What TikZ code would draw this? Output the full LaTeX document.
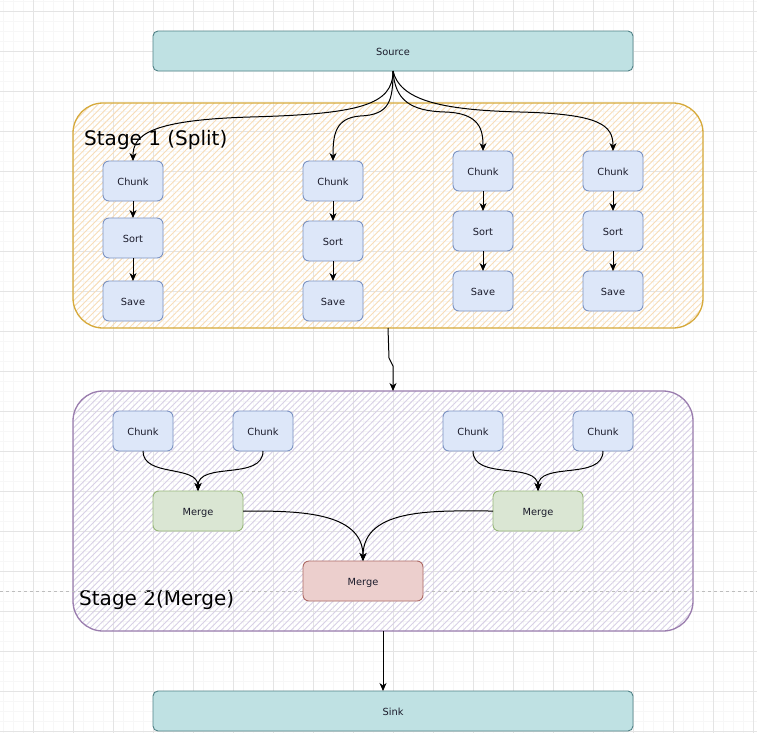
\documentclass[tikz,border=0pt]{standalone}
\usepackage{fontspec}
\setmainfont{DejaVu Sans}
\usetikzlibrary{arrows.meta,patterns.meta}
\definecolor{gridmaj}{HTML}{E4E4E4}
\definecolor{gridmin}{HTML}{F7F7F7}
\definecolor{tealfill}{HTML}{BFE1E3}
\definecolor{tealdraw}{HTML}{4F8186}
\definecolor{bluefill}{HTML}{DDE7F9}
\definecolor{bluedraw}{HTML}{7C93C3}
\definecolor{greenfill}{HTML}{DAE6D3}
\definecolor{greendraw}{HTML}{98B77A}
\definecolor{redfill}{HTML}{ECCFCD}
\definecolor{reddraw}{HTML}{AD6A66}
\definecolor{goldline}{HTML}{D6A93A}
\definecolor{orangehatch}{HTML}{F8DDB8}
\definecolor{purpleline}{HTML}{9A7DAE}
\definecolor{purplehatch}{HTML}{D8D0E6}
\definecolor{guidegray}{HTML}{BDBDBD}
\definecolor{txt}{HTML}{1A1A2A}
\tikzset{
  basebox/.style={rectangle, inner sep=0pt, outer sep=0pt, line width=0.9pt,
    font=\fontsize{9.8}{11.8}\selectfont, text=txt, text height=9pt, text depth=0pt},
  wide/.style={basebox, minimum width=480pt, minimum height=40pt, rounded corners=5pt, fill=tealfill, draw=tealdraw},
  chunkbox/.style={basebox, minimum width=60pt, minimum height=40pt, rounded corners=6pt, fill=bluefill, draw=bluedraw},
  greenbox/.style={basebox, minimum width=90pt, minimum height=40pt, rounded corners=6pt, fill=greenfill, draw=greendraw},
  redbox/.style={basebox, minimum width=120pt, minimum height=40pt, rounded corners=6pt, fill=redfill, draw=reddraw},
  stageone/.style={rectangle, inner sep=0pt, outer sep=0pt, rounded corners=30pt, line width=1.3pt, draw=goldline,
    pattern={Lines[angle=45,distance=4.5pt,line width=0.9pt]}, pattern color=orangehatch},
  stagetwo/.style={rectangle, inner sep=0pt, outer sep=0pt, rounded corners=30pt, line width=1.3pt, draw=purpleline,
    pattern={Lines[angle=45,distance=4.5pt,line width=0.9pt]}, pattern color=purplehatch},
  stagelabel/.style={inner sep=0pt, anchor=west, font=\fontsize{20}{24}\selectfont, text=black},
  link/.style={draw=black, line width=1pt, -{Stealth[length=8pt,width=7pt,inset=2.5pt]}},
  minorgrid/.style={draw=gridmin, line width=0.8pt},
  majorgrid/.style={draw=gridmaj, line width=0.9pt},
  guide/.style={draw=guidegray, line width=0.8pt, dash pattern=on 3pt off 3pt}
}
\begin{document}
\begin{tikzpicture}[x=1pt,y=-1pt]
\useasboundingbox (0,0) rectangle (757,737);
\fill[white] (0,0) rectangle (757,737);
% grid
\foreach \x in {3,13,...,753} \draw[minorgrid] (\x,0) -- (\x,733);
\foreach \y in {1.5,11.5,...,731.5} \draw[minorgrid] (0,\y) -- (757,\y);
\foreach \x in {33,73,...,753} \draw[majorgrid] (\x,0) -- (\x,733);
\foreach \y in {11.5,51.5,...,731.5} \draw[majorgrid] (0,\y) -- (757,\y);

% containers
\node[stageone, minimum width=630pt, minimum height=225pt] (s1) at (388,215.5) {};
\node[stagetwo, minimum width=620pt, minimum height=240pt] (s2) at (383,511) {};
\node[stagelabel] (t1) at (84,140) {Stage 1 (Split)};
\node[stagelabel] (t2) at (79,600) {Stage 2(Merge)};

% guide line
\draw[guide] (0,591) -- (757,591);

% nodes
\node[wide] (source) at (393,51) {Source};
\node[wide] (sink) at (393,711) {Sink};

\node[chunkbox] (a1) at (133,181) {Chunk};
\node[chunkbox] (b1) at (133,238) {Sort};
\node[chunkbox] (d1) at (133,301) {Save};
\node[chunkbox] (a2) at (333,181) {Chunk};
\node[chunkbox] (b2) at (333,241) {Sort};
\node[chunkbox] (d2) at (333,301) {Save};
\node[chunkbox] (a3) at (483,171) {Chunk};
\node[chunkbox] (b3) at (483,231) {Sort};
\node[chunkbox] (d3) at (483,291) {Save};
\node[chunkbox] (a4) at (613,171) {Chunk};
\node[chunkbox] (b4) at (613,231) {Sort};
\node[chunkbox] (d4) at (613,291) {Save};

\node[chunkbox] (m1) at (143,431) {Chunk};
\node[chunkbox] (m2) at (263,431) {Chunk};
\node[chunkbox] (m3) at (473,431) {Chunk};
\node[chunkbox] (m4) at (603,431) {Chunk};
\node[greenbox] (g1) at (198,511) {Merge};
\node[greenbox] (g2) at (538,511) {Merge};
\node[redbox] (r) at (363,581) {Merge};

% source fan-out
\draw[link] (source.south) .. controls +(0,34) and (360,114) .. (250,117) .. controls (150,120) and +(0,-26) .. (a1.north);
\draw[link] (source.south) .. controls +(0,29) and (390,115) .. (360,116) .. controls (335,118) and +(0,-26) .. (a2.north);
\draw[link] (source.south) .. controls +(2,29) and (410,111) .. (445,112) .. controls (480,113) and +(0,-21) .. (a3.north);
\draw[link] (source.south) .. controls +(7,29) and (440,110) .. (520,112) .. controls (600,114) and +(0,-26) .. (a4.north);

% columns
\foreach \i in {1,2,3,4} {
  \draw[link] (a\i) -- (b\i);
  \draw[link] (b\i) -- (d\i);
}

% stage 1 to stage 2
\draw[link] (s1.south) -- (389,358) -- (393,366) -- (s2.north -| source);

% merges
\draw[link] (m1.south) to[out=-90,in=90] (g1.north);
\draw[link] (m2.south) to[out=-90,in=90] (g1.north);
\draw[link] (m3.south) to[out=-90,in=90] (g2.north);
\draw[link] (m4.south) to[out=-90,in=90] (g2.north);
\draw[link] (g1.east) to[out=0,in=90] (r.north);
\draw[link] (g2.west) to[out=180,in=90] (r.north);

% to sink
\draw[link] (s2.south) -- (s2.south |- sink.north);
\end{tikzpicture}
\end{document}
